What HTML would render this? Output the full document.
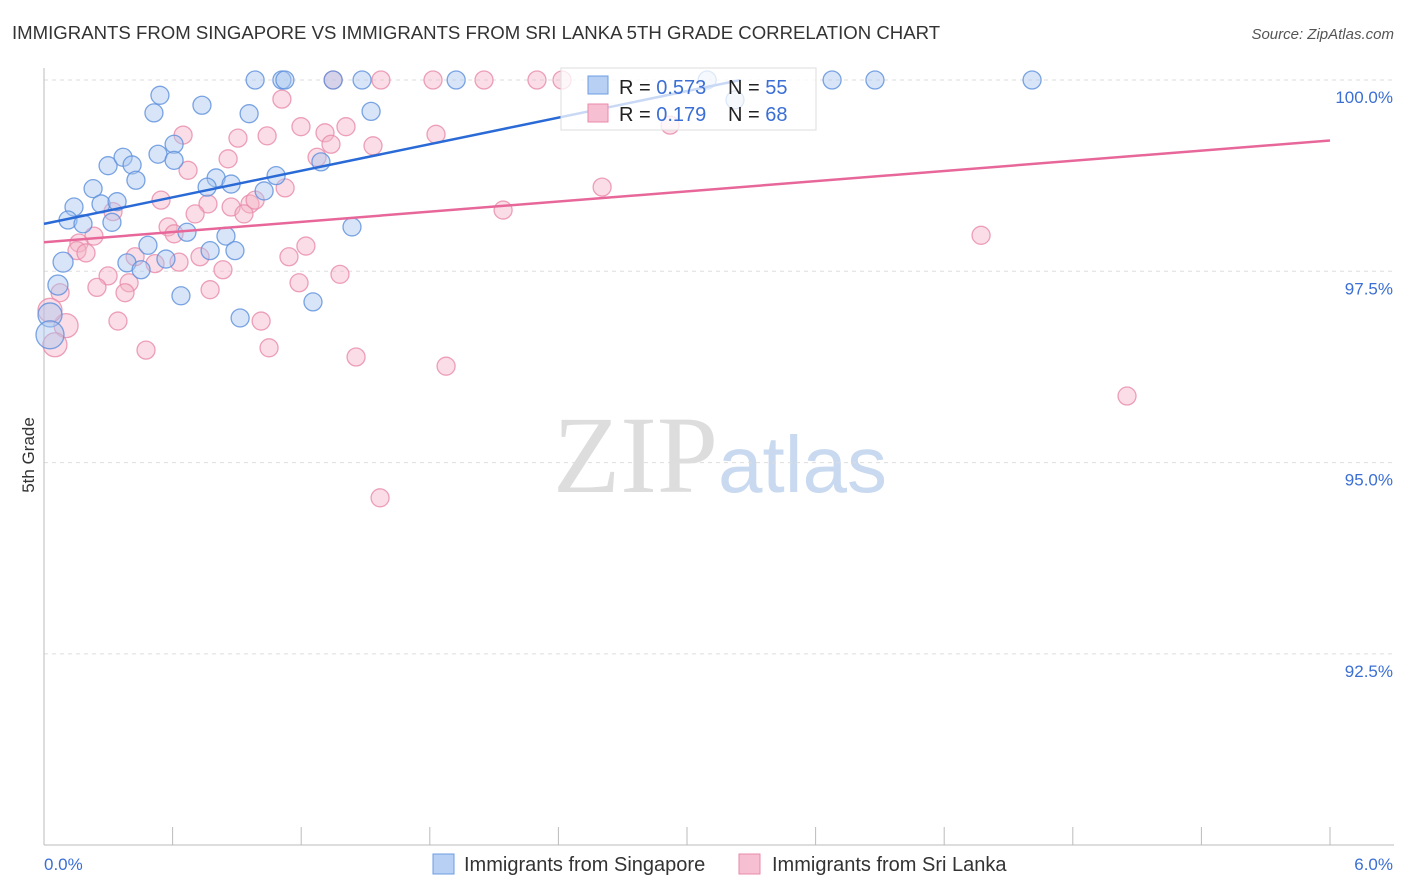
<!DOCTYPE html>
<html><head><meta charset="utf-8"><style>
body{margin:0;background:#fff;font-family:"Liberation Sans",sans-serif}
#wrap{position:relative;width:1406px;height:892px;overflow:hidden}
</style></head><body>
<div id="wrap">
<svg id="svg" width="1406" height="892">
<text x="12" y="39" font-size="18.6" fill="#333">IMMIGRANTS FROM SINGAPORE VS IMMIGRANTS FROM SRI LANKA 5TH GRADE CORRELATION CHART</text>
<text x="1394" y="39" font-size="15" fill="#555" font-style="italic" text-anchor="end">Source: ZipAtlas.com</text>
<text transform="translate(34,455) rotate(-90)" font-size="17" fill="#333" text-anchor="middle">5th Grade</text>
<text x="553" y="492" font-size="110" fill="#ddd" font-family="Liberation Serif">ZIP</text>
<text x="718" y="492" font-size="80" fill="#c8d9f0">atlas</text>
<g id="grid"></g><g id="axes"></g><g id="pts"></g><g id="lines"></g>
<g>
<rect x="561" y="68" width="255" height="62" fill="#fff" fill-opacity="0.75" stroke="#ddd"/>
<rect x="588" y="76" width="20" height="18" fill="#b7d0f3" stroke="#6d9de0"/>
<rect x="588" y="104" width="20" height="18" fill="#f7c0d2" stroke="#e98aa9"/>
<text x="619" y="94" font-size="20" fill="#222">R = <tspan fill="#3b6fd4">0.573</tspan></text>
<text x="728" y="94" font-size="20" fill="#222">N = <tspan fill="#3b6fd4">55</tspan></text>
<text x="619" y="121" font-size="20" fill="#222">R =  <tspan fill="#3b6fd4">0.179</tspan></text>
<text x="728" y="121" font-size="20" fill="#222">N = <tspan fill="#3b6fd4">68</tspan></text>
</g>
<text x="44" y="870" font-size="17" fill="#3b6fd4">0.0%</text>
<text x="1393" y="870" font-size="17" fill="#3b6fd4" text-anchor="end">6.0%</text>
<rect x="433" y="854" width="21" height="20" fill="#b7d0f3" stroke="#6d9de0"/>
<text x="464" y="871" font-size="20" fill="#333">Immigrants from Singapore</text>
<rect x="739" y="854" width="21" height="20" fill="#f7c0d2" stroke="#e98aa9"/>
<text x="772" y="871" font-size="20" fill="#333">Immigrants from Sri Lanka</text>
</svg></div>
<script>
const yTicks=[100,97.5,95,92.5];
const yTickLabels=["100.0%","97.5%","95.0%","92.5%"];
const xTicks=[0,0.6,1.2,1.8,2.4,3,3.6,4.2,4.8,5.4,6];
const blueX=[0.985,1.110,1.124,1.349,1.484,1.923,3.094,3.677,3.877,4.610,0.541,0.513,0.737,0.957,1.526,0.607,0.532,0.607,0.299,0.369,0.411,0.429,1.292,0.229,0.140,0.266,0.341,0.112,0.317,0.182,0.803,0.761,0.873,1.027,1.083,1.437,0.667,0.485,0.089,0.387,0.453,0.569,0.775,0.849,0.891,0.639,1.255,0.915,0.065,0.028,0.028,3.224];
const blueY=[100,100,100,100,100,100,100,100,100,100,99.80,99.57,99.67,99.56,99.59,99.16,99.03,98.95,98.88,98.99,98.89,98.69,98.93,98.58,98.34,98.38,98.41,98.17,98.14,98.12,98.72,98.60,98.64,98.55,98.75,98.08,98.01,97.84,97.62,97.61,97.52,97.66,97.77,97.96,97.77,97.18,97.10,96.89,97.32,96.93,96.67,99.74];
const blueR=[9,9,9,9,9,9,9,9,9,9,9,9,9,9,9,9,9,9,9,9,9,9,9,9,9,9,9,9,9,9,9,9,9,9,9,9,9,9,10,9,9,9,9,9,9,9,9,9,10,12,14,9];
const pinkX=[1.349,1.572,1.815,2.053,2.300,2.417,1.110,0.649,0.905,1.041,1.199,1.311,1.409,1.339,1.535,1.829,0.859,0.672,1.274,0.546,0.765,0.961,0.873,0.933,0.322,0.705,0.985,1.125,0.579,0.607,0.233,0.163,0.154,0.196,1.222,0.425,0.518,0.630,0.728,0.835,1.143,1.381,0.299,0.247,0.397,0.378,0.775,1.190,0.075,0.345,1.013,0.476,1.050,1.456,1.876,1.568,2.604,2.142,4.372,5.053,2.921,0.103,0.051,0.028];
const pinkY=[100,100,100,100,100,100,99.75,99.28,99.24,99.27,99.39,99.31,99.39,99.16,99.14,99.29,98.97,98.82,98.99,98.43,98.38,98.38,98.34,98.25,98.28,98.25,98.43,98.59,98.08,97.99,97.96,97.87,97.77,97.74,97.83,97.69,97.60,97.62,97.69,97.52,97.69,97.46,97.44,97.29,97.35,97.22,97.26,97.35,97.22,96.85,96.85,96.47,96.50,96.38,96.26,94.54,98.60,98.30,97.97,95.87,99.41,96.79,96.54,96.99];
const blueLine=[[0,98.12],[3.25,100]];
const pinkLine=[[0,97.88],[6,99.21]];
const X=v=>44+v/6*1286, Y=v=>80+(100-v)/2.5*191.3;
const NS="http://www.w3.org/2000/svg";
function mk(t,a,p){const e=document.createElementNS(NS,t);for(const k in a)e.setAttribute(k,a[k]);p.appendChild(e);return e;}
const grid=document.getElementById('grid'),axes=document.getElementById('axes'),pts=document.getElementById('pts'),lines=document.getElementById('lines');
yTicks.forEach((v,i)=>{
 const l=mk('line',{x1:44,x2:1394,y1:Y(v),y2:Y(v),stroke:'#ddd','stroke-dasharray':'4,4'},grid);
 
 
 const t=mk('text',{x:1393,y:Y(v)+23,'font-size':17,fill:'#3b6fd4','text-anchor':'end'},grid);
 t.textContent=yTickLabels[i];
 
 
});
const ya=mk('line',{x1:44,x2:44,y1:68,y2:845,stroke:'#bbb'},axes);


const xa=mk('line',{x1:44,x2:1394,y1:845,y2:845,stroke:'#bbb'},axes);


xTicks.forEach(v=>{
 const t=mk('line',{x1:X(v),x2:X(v),y1:827,y2:845,stroke:'#bbb'},axes);
 
 
});
function dots(xs,ys,rs,fill,stroke,name){
 xs.forEach((v,i)=>{
  const c=mk('circle',{cx:X(v),cy:Y(ys[i]),r:rs?rs[i]:9,fill:fill,'fill-opacity':0.45,stroke:stroke,'stroke-opacity':0.8,'stroke-width':1.3},pts);
  
  
 });
}
dots(pinkX,pinkY,pinkX.map((v,i)=>i>=61?12:9),'#f5b3c8','#e98aa9','point-sri-lanka');
dots(blueX,blueY,blueR,'#a9c6f0','#5b8fdc','point-singapore');
const bl=mk('line',{x1:X(blueLine[0][0]),y1:Y(blueLine[0][1]),x2:X(blueLine[1][0]),y2:Y(blueLine[1][1]),stroke:'#2a6ad6','stroke-width':2.5},lines);


const pl=mk('line',{x1:X(pinkLine[0][0]),y1:Y(pinkLine[0][1]),x2:X(pinkLine[1][0]),y2:Y(pinkLine[1][1]),stroke:'#e8679a','stroke-width':2.5},lines);


</script>
</body></html>
